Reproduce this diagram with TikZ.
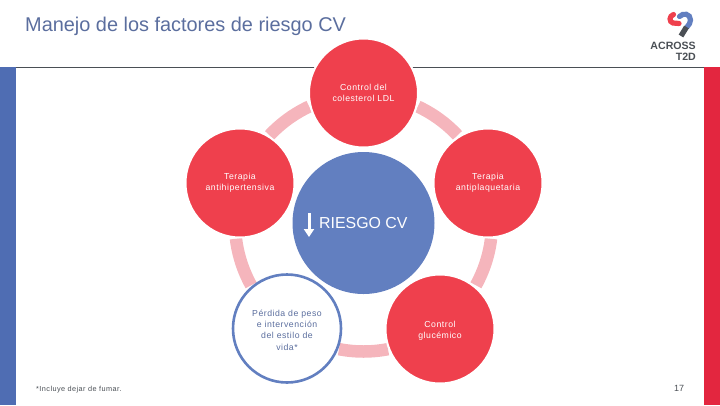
\documentclass[tikz,border=0pt]{standalone}
\usepackage{fontspec}
\setmainfont{Liberation Sans}
\newfontfamily\spacedfont[LetterSpace=6]{Liberation Sans}
\usetikzlibrary{positioning}
\usetikzlibrary{arrows.meta}

\definecolor{riskred}{HTML}{EF404D}
\definecolor{riskblue}{HTML}{627FC0}
\definecolor{ringpink}{HTML}{F5B5BC}
\definecolor{barblue}{HTML}{4F6DB3}
\definecolor{barred}{HTML}{E3263F}
\definecolor{titleblue}{HTML}{5B6E9E}
\definecolor{logogray}{HTML}{4A4F55}

\tikzset{
    factor/.style={circle, fill=riskred, draw=white, line width=2pt, minimum size=109pt, inner sep=0pt,
        align=center, text=white, font=\spacedfont\fontsize{8.7}{11.3}\selectfont},
    lifestyle/.style={circle, fill=white, draw=riskblue, line width=2.6pt, minimum size=108pt, inner sep=0pt,
        align=center, text=titleblue, font=\spacedfont\fontsize{8.7}{11.3}\selectfont},
    ringpart/.style={draw=ringpink, line width=12.5pt}
}

\begin{document}
\begin{tikzpicture}[x=1pt, y=-1pt]
        \useasboundingbox (0,0) rectangle (720,405);

        % side bars and header line
        \fill[barblue] (0,67) rectangle (16,405);
        \fill[barred] (704,67) rectangle (720,405);
        \coordinate (lineL) at (16,67);
        \coordinate (lineR) at (704,67);
        \draw[logogray, line width=0.8pt] (lineL) -- (lineR);

        \node[anchor=west, inner sep=0pt, text=titleblue, font=\fontsize{19.9}{22}\selectfont] (title) at (25,26) {Manejo de los factores de riesgo CV};

        % ring pieces
        \coordinate (hub) at (363.5,223);
        \begin{scope}[shift={(hub)}, x=1pt, y=1pt]
            \foreach \from/\to in {65/43, 137/115, -7/-29, -79/-101, -151/-173} {
                \draw[ringpart] (\from:128.5) arc[start angle=\from, end angle=\to, radius=128.5];
            }
        \end{scope}

        % centre
        \node[circle, fill=riskblue, minimum size=142pt, inner sep=0pt] (centre) at (hub) {};
        \node[anchor=west, inner sep=0pt, text=white, font=\fontsize{15.9}{18}\selectfont] (riesgo) at (319,223) {RIESGO CV};
        \coordinate (arrowTop) at (309,213);
        \coordinate (arrowEnd) at (309,237);
        \draw[-{Triangle[length=8pt, width=10pt]}, white, line width=3pt] (arrowTop) -- (arrowEnd);

        % factors
        \node[factor] (ldl) at (363.5,93) {Control del\\colesterol LDL};
        \node[factor] (hiper) at (240,183) {Terapia\\antihipertensiva};
        \node[factor] (plaq) at (488,183) {Terapia\\antiplaquetaria};
        \node[factor, label={[text=white, align=center, font=\spacedfont\fontsize{8.7}{11.3}\selectfont, yshift=-1.5pt]center:{Control\\glucémico}}] (gluc) at (440,329) {};
        \node[lifestyle, label={[text=titleblue, align=center, font=\spacedfont\fontsize{8.7}{11.3}\selectfont, yshift=-1.5pt]center:{Pérdida de peso\\e intervención\\del estilo de\\vida*}}] (vida) at (287,328.5) {};

        % logo
        \draw[riskred, line width=5.2pt, line cap=round] (673.5,14.5) .. controls (669,16) and (669,22) .. (673,23) -- (679,23.5);
        \draw[riskblue, line width=5.2pt, line cap=round] (679.5,16.5) .. controls (683,12.5) and (690.5,13.5) .. (690.5,20) .. controls (690.5,22.5) and (689,25) .. (687,27);
        \draw[logogray, line width=5.4pt] (686.5,27) -- (681,36);
        \node[anchor=east, inner sep=0pt, text=logogray, font=\bfseries\fontsize{10.6}{11}\selectfont, align=right] (logo) at (696,51.5) {ACROSS\\T2D};

        \node[anchor=west, inner sep=0pt, text=logogray, font=\spacedfont\fontsize{7.3}{8}\selectfont] (note) at (36,390) {*Incluye dejar de fumar.};
        \node[inner sep=0pt, text=logogray, font=\fontsize{9}{11}\selectfont] (page) at (679,388) {17};
\end{tikzpicture}
\end{document}
